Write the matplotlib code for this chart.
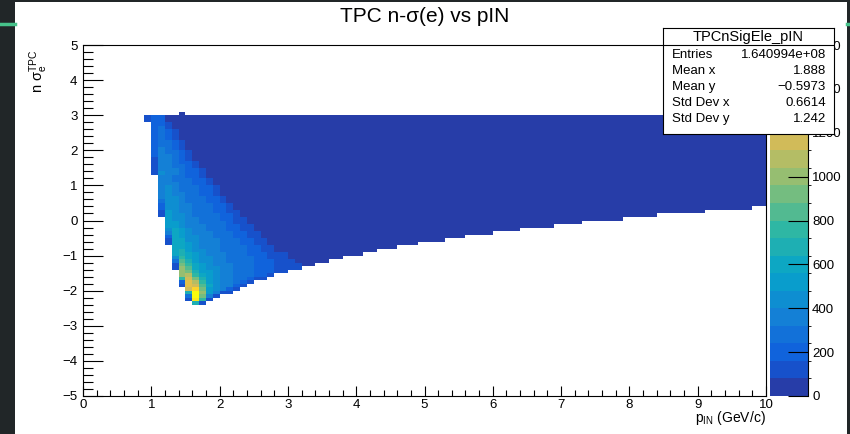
import numpy as np
import matplotlib
matplotlib.use("Agg")
import matplotlib.pyplot as plt
from matplotlib.colors import ListedColormap, BoundaryNorm, LinearSegmentedColormap
from matplotlib.ticker import MultipleLocator
from matplotlib.patches import Rectangle
from matplotlib.lines import Line2D

plt.rcParams['font.family'] = ['Liberation Sans', 'DejaVu Sans']
plt.rcParams['mathtext.fontset'] = 'custom'
plt.rcParams['mathtext.rm'] = 'Liberation Sans'
plt.rcParams['mathtext.it'] = 'Liberation Sans:italic'
plt.rcParams['mathtext.bf'] = 'Liberation Sans:bold'

# binning of the 2D histogram (0.1 x 0.1)
bin_w = 0.1
x_lo, x_hi = 0.0, 10.0
y_lo, y_hi = -5.0, 5.0

# colour scale: 20 bands of 80 entries
band_width = 80
z_max = 1600
z_ticks = [0, 200, 400, 600, 800, 1000, 1200, 1400, 1600]

# band-populated part, x = 0.9 .. 3.3, rows from y = 3.0 down to y = -2.4
# one char per bin: '.' = empty, '0'..'9','a'..'j' = colour band
grid_x0 = 0.9
grid_y_top = 3.0
grid_rows = [
    ".....0..................",
    "122000000000000000000000",
    "122000000000000000000000",
    ".221" + "0" * 20,
    ".231" + "0" * 20,
    ".2321" + "0" * 19,
    ".2321" + "0" * 19,
    ".2321" + "0" * 19,
    ".23321" + "0" * 18,
    ".23321" + "0" * 18,
    ".24321" + "0" * 18,
    ".243321" + "0" * 17,
    ".244321" + "0" * 17,
    ".144321" + "0" * 17,
    ".1443221" + "0" * 16,
    ".1443321" + "0" * 16,
    ".14443221" + "0" * 15,
    ".15443221" + "0" * 15,
    "..4433221" + "0" * 15,
    "..44333221" + "0" * 14,
    "..44433221" + "0" * 14,
    "..454333221" + "0" * 13,
    "..454333221" + "0" * 13,
    "..454433221" + "0" * 13,
    "..4554333221" + "0" * 12,
    "..3554333221" + "0" * 12,
    "..25544333221" + "0" * 11,
    "..25544333221" + "0" * 11,
    "..165443332211" + "0" * 10,
    "..165543333221" + "0" * 10,
    "...655443332211" + "0" * 9,
    "...665443333211" + "0" * 9,
    "...6654443332211" + "0" * 8,
    "...5765443332211" + "0" * 8,
    "...47654443332211" + "0" * 7,
    "...27655443332211" + "0" * 7,
    "...177554443332211" + "0" * 6,
    "...177654443332211" + "0" * 6,
    "....776544433332211" + "0" * 5,
    "....786554433332211" + "0" * 5,
    "....78765444333222111000",
    "....59765544333322111000",
    "....3a865544333322211100",
    "....1b976544433322211110",
    "....1ca7655443332221111.",
    ".....cb86654433322211...",
    ".....cd976544333221.....",
    ".....9eb8654433211......",
    ".....2fd96544321........",
    ".....1fea754421.........",
    "......ehb65421..........",
    "......8jc6411...........",
    "......3jb41.............",
    "......1i91..............",
    ".......81...............",
]
band_codes = "0123456789abcdefghij"

# rest of the band (lowest colour band only): lower edge steps, top at y = 3.0
edge_x = [3.3, 3.4, 3.6, 3.8, 4.1, 4.3, 4.6, 4.9, 5.3, 5.6, 6.0, 6.4, 6.9, 7.3, 7.9, 8.4, 9.1, 9.8]
edge_y = [-1.3, -1.2, -1.1, -1.0, -0.9, -0.8, -0.7, -0.6, -0.5, -0.4, -0.3, -0.2, -0.1, 0.0, 0.1, 0.2, 0.3, 0.4]
top_y = 3.0

stat_names = ["Entries", "Mean x", "Mean y", "Std Dev x", "Std Dev y"]
stat_values = ["1.640994e+08", "1.888", "\u22120.5973", "0.6614", "1.242"]
hist_name = "TPCnSigEle_pIN"

# ---- build the histogram array ----
x_edges = np.round(np.arange(x_lo, x_hi + bin_w / 2, bin_w), 2)
y_edges = np.round(np.arange(y_lo, y_hi + bin_w / 2, bin_w), 2)
counts = np.zeros((len(y_edges) - 1, len(x_edges) - 1))

def xbin(x):
    return int(round((x - x_lo) / bin_w))

def ybin(y):
    return int(round((y - y_lo) / bin_w))

for r, row in enumerate(grid_rows):
    j = ybin(grid_y_top - r * bin_w)
    for k, ch in enumerate(row):
        if ch != '.':
            counts[j, xbin(grid_x0 + k * bin_w)] = (band_codes.index(ch) + 0.5) * band_width

for k in range(len(edge_x)):
    x_end = edge_x[k + 1] if k + 1 < len(edge_x) else x_hi
    counts[ybin(edge_y[k]):ybin(top_y), xbin(edge_x[k]):xbin(x_end)] = 0.5 * band_width

counts = np.ma.masked_equal(counts, 0)

# ROOT kBird palette, 20 contours
stops = [0.0, 0.125, 0.25, 0.375, 0.5, 0.625, 0.75, 0.875, 1.0]
red = [0.2082, 0.0592, 0.0780, 0.0232, 0.1802, 0.5301, 0.8186, 0.9956, 0.9764]
green = [0.1664, 0.3599, 0.5041, 0.6419, 0.7178, 0.7492, 0.7328, 0.7862, 0.9832]
blue = [0.5293, 0.8684, 0.8385, 0.7914, 0.6425, 0.4662, 0.3499, 0.1968, 0.0539]
bird = LinearSegmentedColormap.from_list("bird", list(zip(stops, zip(red, green, blue))), N=255)
n_bands = z_max // band_width
band_colors = [bird(int((i + 0.99) * 255 / n_bands) / 254) for i in range(n_bands)]
cmap = ListedColormap(band_colors)
norm = BoundaryNorm(np.arange(0, z_max + 1, band_width), n_bands)

# ---- figure ----
W, H = 850, 434
fig = plt.figure(figsize=(8.5, 4.34), dpi=100, facecolor="#212628")
fig.patches.append(Rectangle((15 / W, 0), (847 - 15) / W, 1 - 2 / H, transform=fig.transFigure,
                             facecolor="white", edgecolor="none", zorder=-5))
for xa, xb in [(0, 15), (847, 850)]:
    fig.add_artist(Line2D([xa / W, xb / W], [1 - 23.5 / H] * 2, color="#46c28a", lw=2.5))

ax = fig.add_axes([83 / W, 1 - 396 / H, (766 - 83) / W, (396 - 45) / H])
mesh = ax.pcolormesh(x_edges, y_edges, counts, cmap=cmap, norm=norm, shading="flat",
                     edgecolors="none", linewidth=0, antialiased=False)
ax.set_xlim(x_lo, x_hi)
ax.set_ylim(y_lo, y_hi)
ax.xaxis.set_major_locator(MultipleLocator(1))
ax.xaxis.set_minor_locator(MultipleLocator(0.2))
ax.yaxis.set_major_locator(MultipleLocator(1))
ax.yaxis.set_minor_locator(MultipleLocator(0.2))
ax.tick_params(axis="x", which="major", direction="in", length=7.5, width=0.8, labelsize=9.5, pad=2)
ax.tick_params(axis="x", which="minor", direction="in", length=4, width=0.8)
ax.tick_params(axis="y", which="major", direction="in", length=14.4, width=0.8, labelsize=9.5, pad=4)
ax.tick_params(axis="y", which="minor", direction="in", length=7, width=0.8)
for sp in ax.spines.values():
    sp.set_linewidth(0.8)

cax = fig.add_axes([770 / W, 1 - 396 / H, 38 / W, (396 - 45) / H])
cb = fig.colorbar(mesh, cax=cax, ticks=z_ticks)
cb.outline.set_visible(False)
cax.tick_params(direction="in", length=14.4, width=0.8, labelsize=9.5, pad=3)
cax.plot([1, 1], [0, 1], transform=cax.transAxes, color="k", lw=0.8, clip_on=False)

fig.text(0.5, 1 - 16 / H, "TPC n-σ(e) vs pIN", ha="center", va="center", fontsize=15)
fig.text(39 / W, 1 - 50 / H, r"$\mathregular{n\ σ_{e}^{TPC}}$", rotation=90,
         ha="center", va="top", fontsize=10.5)
fig.text(766 / W, 1 - 422 / H, r"$\mathregular{p_{IN}}$ (GeV/c)", ha="right", va="baseline",
         fontsize=10)

# stats box
bx0, bx1, by0, by1 = 663, 834, 28, 134
sax = fig.add_axes([bx0 / W, 1 - by1 / H, (bx1 - bx0) / W, (by1 - by0) / H])
sax.set_xlim(bx0, bx1)
sax.set_ylim(by1, by0)
sax.set_xticks([])
sax.set_yticks([])
for sp in sax.spines.values():
    sp.set_linewidth(0.8)
sax.axhline(45, color="k", lw=0.8)
sax.text((bx0 + bx1) / 2, 37, hist_name, ha="center", va="center", fontsize=10.5)
for k, (name, val) in enumerate(zip(stat_names, stat_values)):
    yy = 55.5 + k * 15.8
    sax.text(672, yy, name, ha="left", va="center", fontsize=9.5)
    sax.text(826, yy, val, ha="right", va="center", fontsize=9.5)

fig.savefig("out.png", dpi=100, facecolor=fig.get_facecolor())
